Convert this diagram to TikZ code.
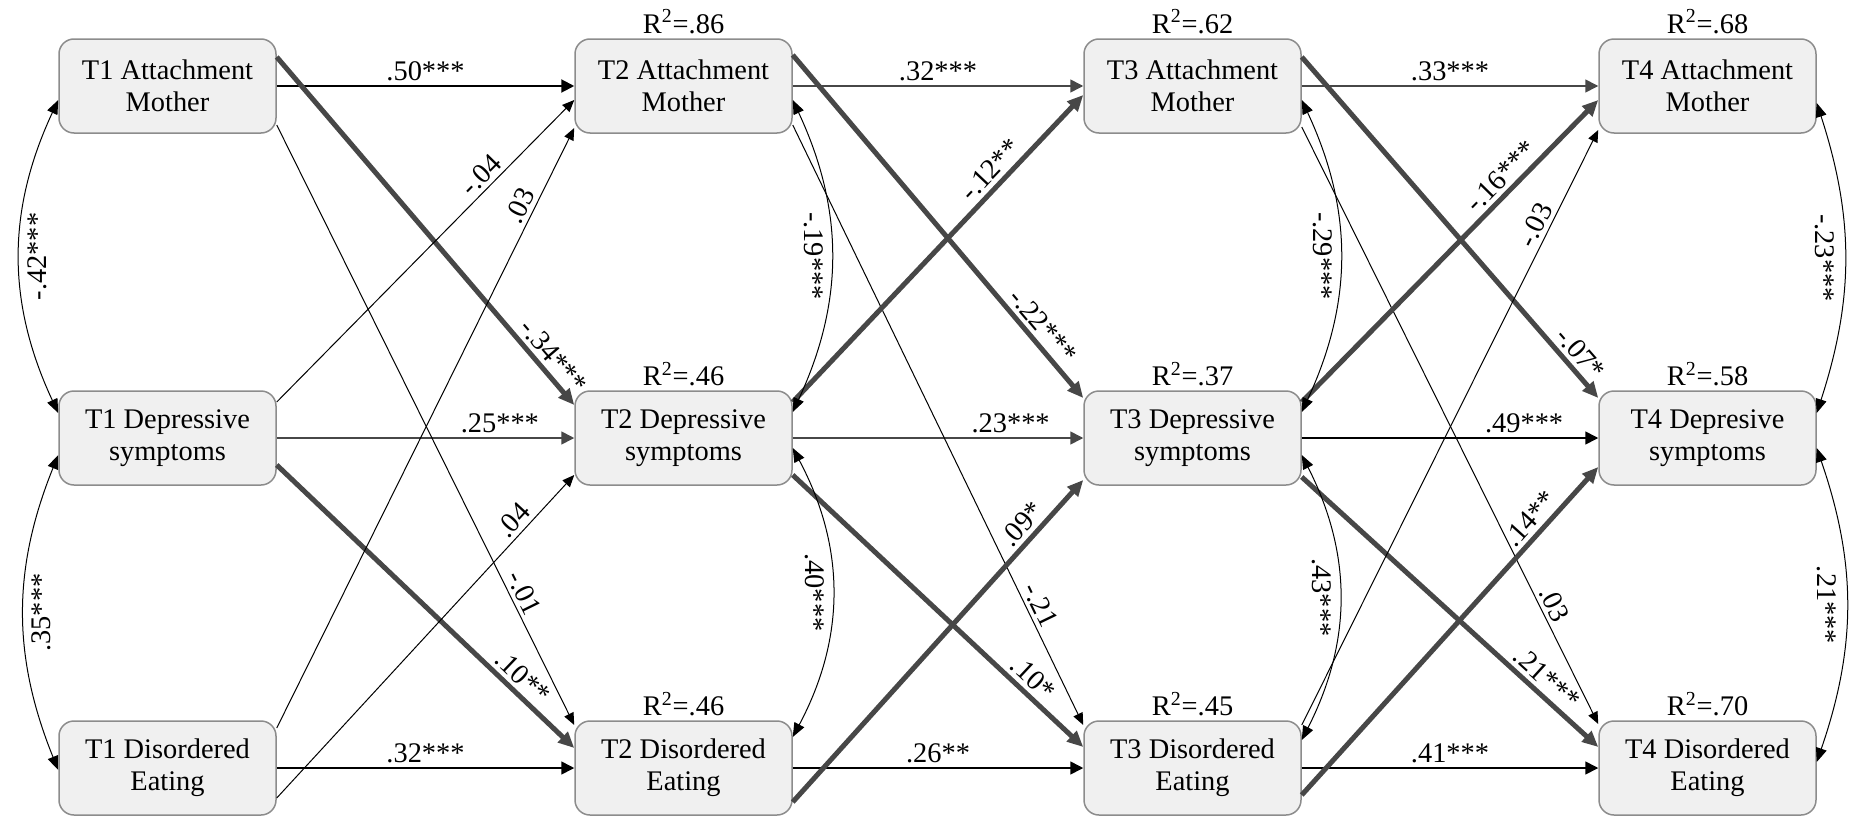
\documentclass[tikz,border=0pt]{standalone}
\usepackage{fontspec}
\setmainfont{Liberation Serif}
\usetikzlibrary{arrows.meta,positioning}
\definecolor{boxfill}{rgb}{0.94, 0.94, 0.94}
\definecolor{boxline}{rgb}{0.55, 0.55, 0.55}
\definecolor{dk}{rgb}{0.28, 0.28, 0.28}

\begin{document}
\begin{tikzpicture}[x=0.5pt, y=-0.5pt,
					font=\fontsize{14.2}{16}\selectfont,
					var/.style = {shape=rectangle, rounded corners=7.5pt,
						draw=boxline, line width=0.75pt, fill=boxfill,
						minimum width=108.5pt, minimum height=47pt,
						align=center, inner sep=0pt},
					rsq/.style = {inner sep=1pt},
					stab/.style = {-{Triangle[length=6.5pt,width=6.5pt]}, line width=0.8pt},
					sig/.style = {-{Triangle[length=8pt,width=7pt]}, line width=2.5pt, draw=dk},
					nsig/.style = {-{Triangle[length=6pt,width=5pt]}, line width=0.5pt},
					cov/.style = {{Triangle[length=7pt,width=5.5pt]}-{Triangle[length=7pt,width=5.5pt]}, line width=0.5pt},
					coef/.style = {inner sep=2pt, sloped, above},
					covlab/.style = {midway, inner sep=0pt}]
	\useasboundingbox (0,0) rectangle (1864,819);

	% variables, one column per wave
	\node[var] (t1am) at (167.5,86) {T1 Attachment\\Mother};
	\node[var] (t1dep) at (167.5,438) {T1 Depressive\\symptoms};
	\node[var] (t1de) at (167.5,768) {T1 Disordered\\Eating};
	\node[var] (t2am) at (683.5,86) {T2 Attachment\\Mother};
	\node[var] (t2dep) at (683.5,438) {T2 Depressive\\symptoms};
	\node[var] (t2de) at (683.5,768) {T2 Disordered\\Eating};
	\node[var] (t3am) at (1192.5,86) {T3 Attachment\\Mother};
	\node[var] (t3dep) at (1192.5,438) {T3 Depressive\\symptoms};
	\node[var] (t3de) at (1192.5,768) {T3 Disordered\\Eating};
	\node[var] (t4am) at (1707.5,86) {T4 Attachment\\Mother};
	\node[var] (t4dep) at (1707.5,438) {T4 Depresive\\symptoms};
	\node[var] (t4de) at (1707.5,768) {T4 Disordered\\Eating};

	% explained variance
	\node[rsq, above=1pt of t2am] {R\textsuperscript{2}=.86};
	\node[rsq, above=1pt of t2dep] {R\textsuperscript{2}=.46};
	\node[rsq, above=1pt of t2de] {R\textsuperscript{2}=.46};
	\node[rsq, above=1pt of t3am] {R\textsuperscript{2}=.62};
	\node[rsq, above=1pt of t3dep] {R\textsuperscript{2}=.37};
	\node[rsq, above=1pt of t3de] {R\textsuperscript{2}=.45};
	\node[rsq, above=1pt of t4am] {R\textsuperscript{2}=.68};
	\node[rsq, above=1pt of t4dep] {R\textsuperscript{2}=.58};
	\node[rsq, above=1pt of t4de] {R\textsuperscript{2}=.70};

	% stability paths
	\draw[stab, line width=1pt] (t1am) -- node[coef] {.50***} (t2am);
	\draw[stab, draw=dk] (t2am) -- node[coef] {.32***} (t3am);
	\draw[stab, draw=dk] (t3am) -- node[coef] {.33***} (t4am);
	\draw[stab, draw=dk] (t1dep) -- node[coef, pos=0.75] {.25***} (t2dep);
	\draw[stab, draw=dk] (t2dep) -- node[coef, pos=0.75] {.23***} (t3dep);
	\draw[stab] (t3dep) -- node[coef, pos=0.75] {.49***} (t4dep);
	\draw[stab] (t1de) -- node[coef] {.32***} (t2de);
	\draw[stab] (t2de) -- node[coef] {.26**} (t3de);
	\draw[stab] (t3de) -- node[coef] {.41***} (t4de);

	% cross-lagged paths T1 -> T2
	\draw[sig] ([yshift=14.5pt]t1am.east) -- node[coef, pos=0.89] {-.34***} ([yshift=16.5pt]t2dep.west);
	\draw[nsig] ([yshift=-19.5pt]t1am.east) -- node[coef, pos=0.79] {-.01} ([yshift=21.5pt]t2de.west);
	\draw[nsig] ([yshift=18pt]t1dep.east) -- node[coef, pos=0.72] {-.04} ([yshift=-7pt]t2am.west);
	\draw[sig] ([yshift=-13.5pt]t1dep.east) -- node[coef, pos=0.79] {.10**} ([yshift=10pt]t2de.west);
	\draw[nsig] ([yshift=20pt]t1de.east) -- node[coef, pos=0.86] {.03} ([yshift=-21pt]t2am.west);
	\draw[nsig] ([yshift=-15pt]t1de.east) -- node[coef, pos=0.83] {.04} ([yshift=-18.5pt]t2dep.west);

	% cross-lagged paths T2 -> T3
	\draw[sig] ([yshift=15.5pt]t2am.east) -- node[coef, pos=0.82] {-.22***} ([yshift=20pt]t3dep.west);
	\draw[nsig] ([yshift=-19.5pt]t2am.east) -- node[coef, pos=0.81] {-.21} ([yshift=21.5pt]t3de.west);
	\draw[sig] ([yshift=18pt]t2dep.east) -- node[coef, pos=0.72] {-.12**} ([yshift=-4.5pt]t3am.west);
	\draw[sig] ([yshift=-18.5pt]t2dep.east) -- node[coef, pos=0.79] {.10*} ([yshift=10.5pt]t3de.west);
	\draw[sig] ([yshift=-17pt]t2de.east) -- node[coef, pos=0.83] {.09*} ([yshift=-21pt]t3dep.west);

	% cross-lagged paths T3 -> T4
	\draw[sig] ([yshift=14.5pt]t3am.east) -- node[coef, pos=0.9] {-.07*} ([yshift=20pt]t4dep.west);
	\draw[nsig] ([yshift=-20.5pt]t3am.east) -- node[coef, pos=0.81] {.03} ([yshift=22pt]t4de.west);
	\draw[sig] ([yshift=18pt]t3dep.east) -- node[coef, pos=0.71] {-.16***} ([yshift=-7pt]t4am.west);
	\draw[sig] ([yshift=-19.5pt]t3dep.east) -- node[coef, pos=0.79] {.21***} ([yshift=10.5pt]t4de.west);
	\draw[nsig] ([yshift=21.5pt]t3de.east) -- node[coef, pos=0.83] {-.03} ([yshift=-22pt]t4am.west);
	\draw[sig] ([yshift=-13.5pt]t3de.east) -- node[coef, pos=0.81] {.14**} ([yshift=-14.5pt]t4dep.west);

	% within-wave covariances
	\draw[cov] ([yshift=-7pt]t1am.west) to[bend right=25] node[covlab, xshift=9pt, rotate=90] {-.42***} ([yshift=12.5pt]t1dep.west);
	\draw[cov] ([yshift=-8.5pt]t1dep.west) to[bend right=22] node[covlab, xshift=9pt, rotate=90] {.35***} ([yshift=-1pt]t1de.west);
	\draw[cov] ([yshift=-7pt]t2am.east) to[bend left=25] node[covlab, xshift=-9pt, rotate=-90] {-.19***} ([yshift=13pt]t2dep.east);
	\draw[cov] ([yshift=-5pt]t2dep.east) to[bend left=28] node[covlab, xshift=-9pt, rotate=-90] {.40***} ([yshift=15.5pt]t2de.east);
	\draw[cov] ([yshift=-7pt]t3am.east) to[bend left=25] node[covlab, xshift=-9pt, rotate=-90] {-.29***} ([yshift=13pt]t3dep.east);
	\draw[cov] ([yshift=-8.5pt]t3dep.east) to[bend left=27] node[covlab, xshift=-9pt, rotate=-90] {.43***} ([yshift=14pt]t3de.east);
	\draw[cov] ([yshift=-8.5pt]t4am.east) to[bend left=18] node[covlab, xshift=-10pt, rotate=-90] {-.23***} ([yshift=12.5pt]t4dep.east);
	\draw[cov] ([yshift=-5pt]t4dep.east) to[bend left=19] node[covlab, xshift=-10pt, rotate=-90] {.21***} ([yshift=3pt]t4de.east);
\end{tikzpicture}
\end{document}
